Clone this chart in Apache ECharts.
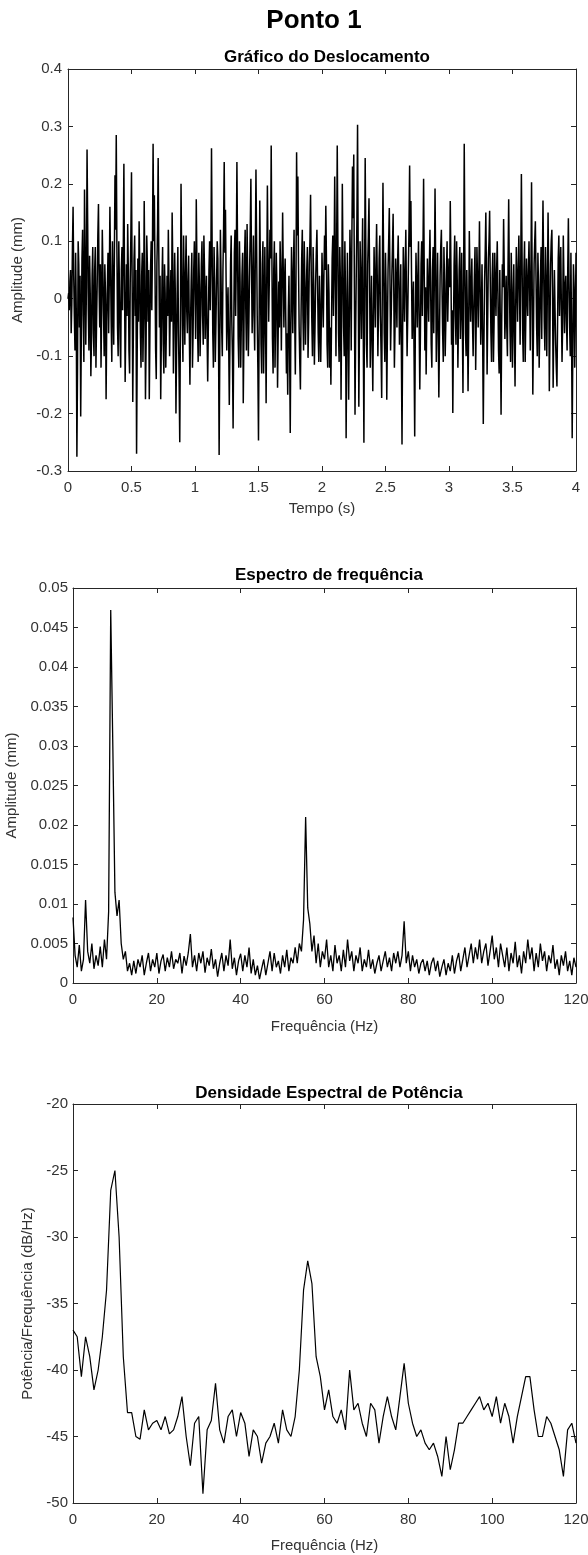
<!DOCTYPE html>
<html><head><meta charset="utf-8">
<script src="https://cdn.jsdelivr.net/npm/echarts@6/dist/echarts.min.js"></script>
<style>html,body{margin:0;padding:0;background:#fff}#c{width:588px;height:1555px}</style>
</head><body><div id="c"></div>
<script>
// ---- Data: displacement (mm), sampled every dispStep seconds ----
const dispStep = 0.005;
const dispValues = [
0, 0.01, -0.02, 0.03, 0.05, -0.06, -0.01, 0.09, 0.16, 0.04, -0.03, -0.09, 0.08, -0.02, -0.275, -0.12, 0.10, 0.06, -0.05, 0.04,
-0.205, -0.06, 0.07, 0.12, -0.03, -0.11, 0.19, 0.08, -0.08, 0.02, 0.26, 0.13, -0.02, -0.09, 0.075, 0.01, -0.135, -0.07, 0.04, 0.09,
-0.06, -0.10, 0.05, 0.09, -0.12, -0.04, 0.03, 0.11, 0.165, 0.02, -0.05, 0.06, -0.12, -0.02, 0.12, 0.05, -0.03, -0.10, 0.06, 0.01,
-0.175, -0.04, 0.02, 0.08, -0.06, 0.03, 0.16, 0.06, -0.04, -0.11, 0.10, 0.02, -0.08, 0.07, 0.215, 0.12, 0.285, 0.09, -0.05, -0.10,
0.10, 0.02, -0.07, -0.12, 0.05, 0.09, -0.02, 0.08, 0.235, 0.04, -0.145, -0.05, 0.06, -0.03, 0.13, 0.05, -0.09, -0.13, 0.03, 0.11,
0.22, 0.03, -0.18, -0.05, 0.07, 0.11, -0.03, 0.05, -0.27, -0.09, 0.07, -0.04, 0.135, 0.06, -0.06, -0.12, 0.04, 0.08, -0.11, -0.03,
0.17, 0.04, -0.175, -0.08, 0.11, 0.06, -0.04, 0.05, -0.175, -0.06, 0.05, 0.10, -0.02, 0.09, 0.27, 0.10, 0.18, 0.05, -0.09, -0.14,
0.06, 0.12, 0.245, 0.08, -0.05, 0.04, -0.175, -0.07, 0.03, 0.09, -0.08, -0.13, 0.06, 0.01, -0.12, -0.05, 0.04, -0.03, 0.12, 0.03,
-0.10, -0.02, 0.05, -0.04, 0.15, 0.06, -0.13, -0.03, 0.08, 0.01, -0.20, -0.09, 0.02, 0.09, -0.06, -0.14, -0.25, -0.05, 0.20, 0.07,
-0.04, -0.11, 0.11, 0.02, -0.08, 0.04, 0.11, -0.02, -0.06, 0.03, 0.075, -0.05, -0.15, -0.04, 0.03, 0.08, -0.12, -0.06, 0.05, 0.10,
0.02, -0.07, 0.173, 0.06, -0.05, -0.11, 0.08, 0.02, -0.10, -0.03, 0.06, 0.10, -0.03, -0.08, 0.11, 0.05, -0.07, -0.01, 0.04, -0.06,
-0.144, -0.05, 0.05, 0.10, -0.02, 0.07, 0.262, 0.09, -0.06, -0.12, 0.09, 0.03, -0.11, -0.04, 0.03, 0.10, 0.07, -0.06, -0.272, -0.10,
0.12, 0.04, -0.05, -0.10, 0.05, 0.12, 0.238, 0.08, 0.155, 0.03, -0.09, -0.02, 0.02, -0.07, -0.185, -0.08, 0.06, 0.11, -0.04, -0.10,
-0.226, -0.06, 0.08, 0.12, -0.03, 0.06, 0.238, 0.09, -0.07, -0.12, 0.10, 0.03, -0.12, -0.04, 0.04, 0.08, -0.182, -0.07, 0.07, 0.12,
-0.02, -0.09, 0.13, 0.04, -0.10, -0.03, 0.05, 0.12, 0.209, 0.06, -0.06, 0.02, 0.11, -0.03, -0.09, 0.08, 0.225, 0.10, -0.03, -0.12,
-0.247, -0.04, 0.171, 0.05, -0.08, -0.13, 0.06, 0.10, -0.13, -0.05, 0.09, -0.02, -0.182, 0.03, 0.197, 0.07, -0.04, 0.03, 0.12, 0.07,
0.267, 0.09, -0.07, -0.13, 0.05, 0.10, -0.12, -0.03, 0.08, 0.02, -0.155, -0.06, 0.03, -0.05, 0.10, 0.04, -0.09, 0.03, 0.15, 0.05,
-0.05, 0.03, 0.07, -0.04, -0.13, -0.06, -0.167, -0.02, 0.04, -0.09, -0.234, -0.04, 0.09, 0.02, -0.06, 0.05, 0.12, -0.03, -0.132, 0.02,
0.255, 0.11, 0.213, 0.06, -0.05, -0.11, -0.158, -0.03, 0.07, 0.12, -0.03, -0.09, 0.10, 0.03, -0.08, -0.01, 0.05, 0.09, -0.103, -0.04,
0.06, 0.10, 0.181, 0.05, -0.04, -0.10, 0.09, 0.02, -0.115, -0.05, 0.03, 0.08, 0.12, 0.03, -0.06, -0.11, 0.04, -0.02, -0.11, -0.03,
0.08, 0.02, -0.05, 0.04, 0.11, 0.05, 0.162, 0.07, -0.08, -0.12, 0.06, 0.01, -0.12, -0.05, -0.15, -0.04, 0.07, 0.11, -0.03, 0.05,
0.213, 0.06, -0.10, 0.08, 0.267, 0.10, -0.06, -0.11, 0.09, 0.03, -0.176, -0.02, 0.20, 0.07, -0.05, -0.10, 0.10, 0.01, -0.243, -0.07,
0.08, -0.05, -0.176, -0.03, 0.12, 0.05, -0.09, 0.10, 0.23, 0.14, 0.251, 0.02, -0.202, -0.06, 0.05, 0.14, 0.303, 0.08, -0.188, -0.05,
0.10, 0.03, -0.07, 0.05, 0.14, -0.06, -0.251, 0.02, 0.245, 0.09, -0.08, -0.12, 0.06, 0.11, 0.175, 0.03, -0.12, -0.05, 0.04, -0.07,
-0.161, -0.03, 0.09, 0.02, -0.05, 0.06, 0.13, 0.04, -0.10, -0.02, 0.07, 0.11, -0.03, -0.09, -0.173, 0.03, 0.202, 0.07, -0.06, -0.11,
0.08, 0.01, -0.176, -0.06, 0.05, 0.10, 0.158, 0.04, -0.09, -0.03, 0.04, 0.09, 0.148, 0.02, -0.12, -0.05, 0.07, 0.02, -0.05, 0.06,
0.11, 0.03, -0.08, -0.02, 0.06, -0.09, -0.254, -0.06, 0.09, 0.03, -0.04, 0.05, 0.12, 0.01, -0.10, -0.03, 0.05, 0.12, 0.232, 0.09,
0.17, 0.04, -0.07, -0.01, 0.03, -0.10, -0.24, -0.05, 0.08, 0.02, -0.05, 0.04, 0.10, -0.04, -0.158, -0.06, 0.06, 0.10, -0.03, 0.08,
0.209, 0.05, -0.09, 0.02, -0.132, -0.03, 0.07, 0.01, -0.04, 0.05, 0.12, 0.03, -0.08, -0.12, 0.05, 0.09, -0.06, 0.04, 0.192, 0.06,
-0.11, -0.03, 0.08, -0.05, -0.172, -0.07, 0.04, 0.09, 0.12, 0.02, -0.06, -0.11, 0.09, 0.03, -0.10, -0.04, 0.05, 0.10, -0.04, 0.02,
0.07, 0.02, 0.17, 0.06, -0.08, -0.02, -0.199, -0.06, 0.06, 0.11, -0.03, -0.08, 0.10, 0.03, -0.12, -0.04, 0.05, 0.09, -0.07, -0.01,
0.08, -0.04, -0.164, 0.02, 0.27, 0.08, -0.06, -0.10, 0.05, -0.03, -0.161, -0.05, 0.118, 0.04, -0.04, 0.02, 0.07, -0.04, -0.10, -0.02,
0.04, 0.09, -0.124, -0.03, 0.09, 0.03, -0.05, 0.04, 0.135, 0.02, -0.08, -0.02, 0.06, -0.07, -0.218, -0.08, 0.03, 0.08, 0.15, 0.04,
-0.132, -0.03, 0.07, 0.10, 0.153, 0.03, -0.06, -0.11, 0.04, 0.08, -0.11, -0.04, 0.08, 0.02, -0.03, 0.05, 0.10, 0.01, -0.09, -0.13,
0.05, -0.06, -0.202, -0.04, 0.06, 0.02, 0.139, 0.05, -0.07, -0.02, 0.04, -0.05, -0.10, 0.06, 0.173, 0.04, -0.05, -0.11, 0.08, 0.02,
-0.12, -0.03, 0.06, -0.05, -0.153, -0.02, 0.09, 0.03, -0.04, 0.05, 0.11, 0.02, -0.08, 0.06, 0.217, 0.08, -0.06, -0.11, 0.05, 0.10,
-0.11, -0.03, 0.07, 0.01, -0.03, 0.05, 0.10, 0.02, -0.09, 0.04, 0.203, 0.03, -0.167, -0.06, 0.06, 0.10, 0.135, 0.04, -0.05, -0.10,
0.08, 0.02, -0.12, -0.04, 0.04, 0.09, -0.07, 0.05, 0.171, 0.06, -0.04, -0.09, 0.09, 0.02, -0.10, 0.03, 0.15, 0.04, -0.161, -0.06,
0.06, 0.10, 0.12, 0.02, -0.155, -0.05, 0.05, -0.02, -0.08, -0.12, -0.153, -0.04, 0.07, 0.11, -0.03, 0.04, 0.09, -0.02, -0.11, -0.04,
0.11, 0.03, -0.06, 0.02, 0.04, -0.04, -0.09, 0.05, 0.14, 0.03, -0.05, -0.10, 0.08, -0.06, -0.243, -0.08, 0.06, 0.02, -0.12, -0.03,
0.08
];

// ---- Data: amplitude spectrum (mm), every specStep Hz from 0 ----
const specStep = 0.5;
const specValues = [
0.0083,0.0035,0.0020,0.0048,0.0015,0.0030,0.0105,0.0040,0.0025,0.0050,
0.0018,0.0035,0.0022,0.0046,0.0020,0.0055,0.0030,0.0090,0.0472,0.0300,
0.0115,0.0085,0.0105,0.0050,0.0030,0.0040,0.0015,0.0025,0.0010,0.0028,
0.0012,0.0030,0.0020,0.0035,0.0010,0.0025,0.0038,0.0015,0.0030,0.0020,
0.0038,0.0012,0.0028,0.0036,0.0015,0.0032,0.0020,0.0040,0.0018,0.0030,
0.0025,0.0038,0.0012,0.0034,0.0022,0.0038,0.0062,0.0020,0.0035,0.0015,
0.0038,0.0025,0.0040,0.0013,0.0032,0.0022,0.0043,0.0018,0.0030,0.0008,
0.0025,0.0038,0.0015,0.0035,0.0022,0.0055,0.0018,0.0032,0.0010,0.0028,
0.0037,0.0015,0.0035,0.0020,0.0045,0.0012,0.0030,0.0010,0.0022,0.0005,
0.0018,0.0030,0.0010,0.0025,0.0040,0.0015,0.0038,0.0020,0.0028,0.0012,
0.0035,0.0020,0.0042,0.0015,0.0032,0.0025,0.0045,0.0025,0.0050,0.0040,
0.0080,0.0210,0.0095,0.0075,0.0040,0.0060,0.0025,0.0050,0.0020,0.0040,
0.0030,0.0055,0.0020,0.0035,0.0015,0.0048,0.0025,0.0035,0.0015,0.0042,
0.0020,0.0055,0.0028,0.0040,0.0015,0.0035,0.0025,0.0045,0.0015,0.0030,
0.0020,0.0042,0.0018,0.0030,0.0012,0.0025,0.0035,0.0015,0.0028,0.0040,
0.0020,0.0032,0.0015,0.0038,0.0025,0.0040,0.0020,0.0035,0.0078,0.0025,
0.0040,0.0015,0.0035,0.0020,0.0030,0.0012,0.0025,0.0030,0.0015,0.0028,
0.0010,0.0025,0.0032,0.0015,0.0028,0.0008,0.0020,0.0030,0.0010,0.0025,
0.0015,0.0035,0.0012,0.0028,0.0038,0.0015,0.0030,0.0045,0.0020,0.0035,
0.0050,0.0025,0.0045,0.0030,0.0055,0.0025,0.0040,0.0050,0.0022,0.0040,
0.0060,0.0030,0.0045,0.0020,0.0050,0.0035,0.0020,0.0045,0.0015,0.0038,
0.0025,0.0052,0.0020,0.0035,0.0012,0.0040,0.0025,0.0055,0.0030,0.0045,
0.0015,0.0038,0.0020,0.0050,0.0028,0.0040,0.0015,0.0035,0.0025,0.0048,
0.0018,0.0030,0.0010,0.0035,0.0022,0.0040,0.0015,0.0028,0.0010,0.0032,
0.0020
];

// ---- Data: power spectral density (dB/Hz), every psdStep Hz from 0 ----
const psdStep = 1;
const psdValues = [
-37,-37.5,-40.5,-37.5,-39,-41.5,-40,-37.5,-34,-26.5,
-25,-30,-39,-43.2,-43.2,-45,-45.2,-43,-44.5,-44,
-43.8,-44.5,-43.5,-44.8,-44.5,-43.5,-42,-45,-47.2,-44,
-43.5,-49.3,-44.5,-43.8,-41,-44.5,-45.5,-43.5,-43,-45,
-43.2,-44,-46.5,-44.5,-45,-47,-45.5,-45,-44,-45.5,
-43,-44.5,-45,-43.5,-40,-34,-31.8,-33.5,-39,-40.5,
-43,-41.5,-43.5,-44,-43,-44.5,-40,-43,-42.5,-44,
-45,-42.5,-43,-45.5,-43.5,-42,-43.5,-44.5,-42,-39.5,
-42.5,-44,-45,-44.5,-45.5,-46,-45.5,-46.5,-48,-45,
-47.5,-46,-44,-44,-43.5,-43,-42.5,-42,-43,-42.5,
-43.5,-42,-44,-42.5,-43.5,-45.5,-43.5,-42,-40.5,-40.5,
-43,-45,-45,-43.5,-44,-45,-46,-48,-44.5,-44,
-45.5
];

// ---- Text ----
const mainTitle = 'Ponto 1';
const titles = ['Gráfico do Deslocamento', 'Espectro de frequência', 'Densidade Espectral de Potência'];
const xNames = ['Tempo (s)', 'Frequência (Hz)', 'Frequência (Hz)'];
const yNames = ['Amplitude (mm)', 'Amplitude (mm)', 'Potência/Frequência (dB/Hz)'];

const toPairs = (vals, step) => vals.map((v, i) => [+(i * step).toFixed(4), v]);

const FONT = '"Liberation Sans", Arial, Helvetica, sans-serif';
const AX = '#262626';
const LBL = '#333333';

function num(dec) { return v => String(+(+v).toFixed(dec)); }

function axes(gi, xr, yr, names, gaps, fmts) {
  const line = { show: true, onZero: false, lineStyle: { color: AX, width: 1 } };
  const tick = { show: true, inside: true, length: 5, lineStyle: { color: AX, width: 1 } };
  const xs = [
    { type: 'value', gridIndex: gi, position: 'bottom', min: xr[0], max: xr[1], interval: xr[2],
      name: names[0], nameLocation: 'middle', nameGap: gaps[0],
      nameTextStyle: { color: LBL, fontSize: 15, fontFamily: FONT },
      axisLine: line, axisTick: tick, splitLine: { show: false },
      axisLabel: { color: LBL, fontSize: 15, fontFamily: FONT, margin: 9, formatter: fmts[0] } },
    { type: 'value', gridIndex: gi, position: 'top', min: xr[0], max: xr[1], interval: xr[2],
      axisLine: line, axisTick: tick, splitLine: { show: false }, axisLabel: { show: false } }
  ];
  const ys = [
    { type: 'value', gridIndex: gi, position: 'left', min: yr[0], max: yr[1], interval: yr[2],
      name: names[1], nameLocation: 'middle', nameGap: gaps[1],
      nameTextStyle: { color: LBL, fontSize: 15, fontFamily: FONT },
      axisLine: line, axisTick: tick, splitLine: { show: false },
      axisLabel: { color: LBL, fontSize: 15, fontFamily: FONT, margin: gaps[2], formatter: fmts[1] } },
    { type: 'value', gridIndex: gi, position: 'right', min: yr[0], max: yr[1], interval: yr[2],
      axisLine: line, axisTick: tick, splitLine: { show: false }, axisLabel: { show: false } }
  ];
  return { xs, ys };
}

const a0 = axes(0, [0, 4, 0.5], [-0.3, 0.4, 0.1], [xNames[0], yNames[0]], [30, 41, 6], [num(2), num(2)]);
const a1 = axes(1, [0, 120, 20], [0, 0.05, 0.005], [xNames[1], yNames[1]], [36, 49, 5], [num(0), num(4)]);
const a2 = axes(2, [0, 120, 20], [-50, -20, 5], [xNames[2], yNames[2]], [35, 36, 5], [num(0), num(0)]);

const titleStyle = { color: '#000', fontSize: 17, fontWeight: 'bold', fontFamily: FONT };

const option = {
  animation: false,
  backgroundColor: '#fff',
  title: [
    { text: mainTitle, left: 309, top: 3, textAlign: 'center', textStyle: { color: '#000', fontSize: 26, fontWeight: 'bold', fontFamily: FONT } },
    { text: titles[0], left: 322, top: 44, textAlign: 'center', textStyle: titleStyle },
    { text: titles[1], left: 324, top: 562, textAlign: 'center', textStyle: titleStyle },
    { text: titles[2], left: 324, top: 1080, textAlign: 'center', textStyle: titleStyle }
  ],
  grid: [
    { left: 68, right: 12, top: 69, height: 402, containLabel: false, outerBoundsMode: 'none' },
    { left: 73, right: 12, top: 588, height: 395, containLabel: false, outerBoundsMode: 'none' },
    { left: 73, right: 12, top: 1104, height: 399, containLabel: false, outerBoundsMode: 'none' }
  ],
  xAxis: [...a0.xs, ...a1.xs, ...a2.xs],
  yAxis: [...a0.ys, ...a1.ys, ...a2.ys],
  series: [
    { type: 'line', xAxisIndex: 0, yAxisIndex: 0, data: toPairs(dispValues, dispStep), showSymbol: false, symbol: 'none',
      lineStyle: { color: '#000', width: 1.5 }, clip: true },
    { type: 'line', xAxisIndex: 2, yAxisIndex: 2, data: toPairs(specValues, specStep), showSymbol: false, symbol: 'none',
      lineStyle: { color: '#000', width: 1.3 }, clip: true },
    { type: 'line', xAxisIndex: 4, yAxisIndex: 4, data: toPairs(psdValues, psdStep), showSymbol: false, symbol: 'none',
      lineStyle: { color: '#000', width: 1.2 }, clip: true }
  ]
};

const chart = echarts.init(document.getElementById('c'), null, { renderer: 'canvas' });
chart.setOption(option);
</script>
</body></html>
